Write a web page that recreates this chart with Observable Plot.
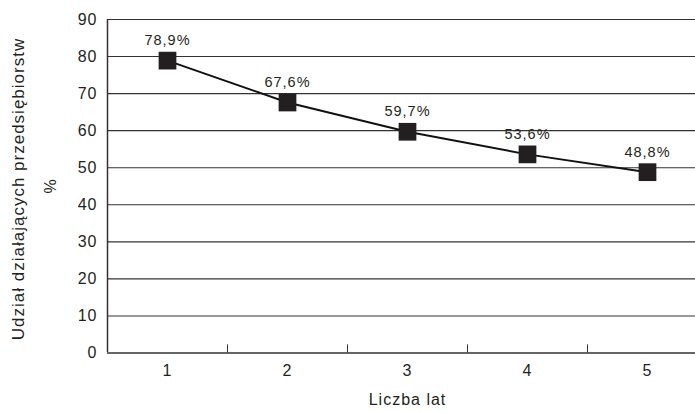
<!DOCTYPE html>
<html><head><meta charset="utf-8">
<script src="https://cdn.jsdelivr.net/npm/d3@7"></script>
<script src="https://cdn.jsdelivr.net/npm/@observablehq/plot@0.6"></script>
<style>
body{margin:0;background:#fff;}
svg{font-family:"Liberation Sans",Arial,sans-serif;letter-spacing:1px;}
</style>
</head><body><div id="chart"></div>
<script>
const years = [1, 2, 3, 4, 5];
const values = [78.9, 67.6, 59.7, 53.6, 48.8];
const labels = ["78,9%", "67,6%", "59,7%", "53,6%", "48,8%"];
const yTicks = [0, 10, 20, 30, 40, 50, 60, 70, 80, 90];
const betweenTicks = [1.5, 2.5, 3.5, 4.5];
const yTitle = "Udział działających przedsiębiorstw";
const yUnit = "%";
const xTitle = "Liczba lat";

const data = years.map((x, i) => ({x, y: values[i], label: labels[i]}));

const chart = Plot.plot({
  width: 695,
  height: 412,
  marginTop: 19,
  marginBottom: 60,
  marginLeft: 107,
  marginRight: 0,
  style: {fontFamily: '"Liberation Sans", Arial, sans-serif', background: "#fff", color: "#222", letterSpacing: "1px"},
  x: {domain: [0.5, 5.5], range: [107, 707]},
  y: {domain: [0, 90], range: [352.5, 19]},
  marks: [
    Plot.ruleY(yTicks.slice(1), {stroke: "#333", strokeWidth: 1.1, strokeOpacity: 1}),
    Plot.ruleY([0], {stroke: "#333", strokeWidth: 1.5}),
    Plot.ruleX([0.5], {stroke: "#333", strokeWidth: 1.5}),
    Plot.ruleX(betweenTicks, {y1: 0, y2: 2.2, stroke: "#333", strokeWidth: 1}),
    Plot.axisY(yTicks, {tickSize: 0, tickPadding: 10, fontSize: 16, label: null, fill: "#231f20"}),
    Plot.axisX(years, {tickSize: 0, tickPadding: 12, fontSize: 16, label: null, fill: "#231f20", tickFormat: d3.format("d")}),
    Plot.line(data, {x: "x", y: "y", stroke: "#111", strokeWidth: 2}),
    Plot.dot(data, {x: "x", y: "y", symbol: "square", r: 10, fill: "#231f20", stroke: "none"}),
    Plot.text(data, {x: "x", y: "y", text: "label", dy: -20, fontSize: 14.5, fill: "#231f20"}),
    Plot.text([yTitle], {frameAnchor: "left", textAnchor: "middle", dx: -89, dy: 3, rotate: -90, fontSize: 17, fill: "#231f20"}),
    Plot.text([yUnit], {frameAnchor: "left", textAnchor: "middle", dx: -57, rotate: -90, fontSize: 16, fill: "#231f20"}),
    Plot.text([xTitle], {frameAnchor: "bottom", textAnchor: "middle", dy: 52, x: 3, fontSize: 16, fill: "#231f20"})
  ]
});
document.getElementById("chart").appendChild(chart);
</script>
</body></html>
